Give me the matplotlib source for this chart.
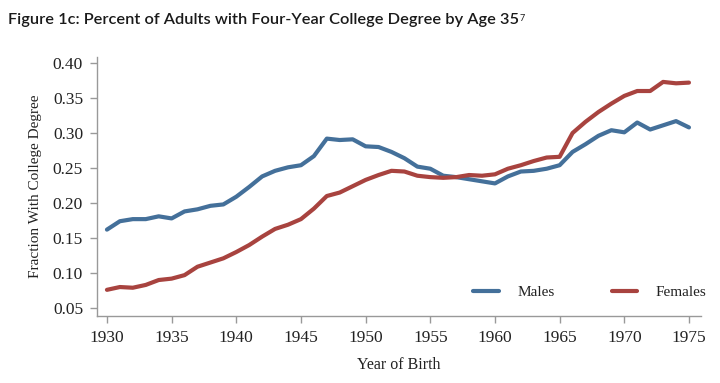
import matplotlib
matplotlib.use("Agg")
import matplotlib.pyplot as plt

years = list(range(1930, 1976))
males = [0.162, 0.174, 0.177, 0.177, 0.181, 0.178, 0.188, 0.191, 0.196, 0.198,
         0.209, 0.223, 0.238, 0.246, 0.251, 0.254, 0.267, 0.292, 0.290, 0.291,
         0.281, 0.280, 0.273, 0.264, 0.252, 0.249, 0.239, 0.237, 0.234, 0.231,
         0.228, 0.238, 0.245, 0.246, 0.249, 0.254, 0.273, 0.284, 0.296, 0.304,
         0.301, 0.315, 0.305, 0.311, 0.317, 0.308]
females = [0.076, 0.080, 0.079, 0.083, 0.090, 0.092, 0.097, 0.109, 0.115, 0.121,
           0.130, 0.140, 0.152, 0.163, 0.169, 0.177, 0.192, 0.210, 0.215, 0.224,
           0.233, 0.240, 0.246, 0.245, 0.239, 0.237, 0.236, 0.237, 0.240, 0.239,
           0.241, 0.249, 0.254, 0.260, 0.265, 0.266, 0.300, 0.316, 0.330, 0.342,
           0.353, 0.360, 0.360, 0.373, 0.371, 0.372]
xticks = [1930, 1935, 1940, 1945, 1950, 1955, 1960, 1965, 1970, 1975]
yticks = [0.05, 0.10, 0.15, 0.20, 0.25, 0.30, 0.35, 0.40]

male_color = "#44709a"
female_color = "#a8433f"
serif = ["Liberation Serif", "DejaVu Serif"]
txt = "#222222"

fig = plt.figure(figsize=(7.2, 3.83), dpi=100)
ax = fig.add_axes([0.1347, 0.1749, 0.8389, 0.6763])

ax.plot(years, males, color=male_color, lw=3.0, label="Males", solid_capstyle="round")
ax.plot(years, females, color=female_color, lw=3.0, label="Females", solid_capstyle="round")

ax.set_xlim(1929.23, 1975.93)
ax.set_ylim(0.0386, 0.4086)
ax.set_xticks(xticks)
ax.set_yticks(yticks)
ax.set_xticklabels([str(x) for x in xticks], family=serif, fontsize=12.5, color=txt)
ax.set_yticklabels([f"{y:.2f}" for y in yticks], family=serif, fontsize=12.5, color=txt)
for s in ["top", "right"]:
    ax.spines[s].set_visible(False)
for s in ["left", "bottom"]:
    ax.spines[s].set_color("#999999")
    ax.spines[s].set_linewidth(1.0)
ax.tick_params(axis="both", direction="out", length=5, color="#999999", width=1.0, pad=5)

ax.set_xlabel("Year of Birth", family=serif, fontsize=11.5, color=txt, labelpad=8)
ax.set_ylabel("Fraction With College Degree", family=serif, fontsize=11, color=txt, labelpad=8)

leg = ax.legend(loc="lower right", ncol=2, frameon=False, prop={"family": serif, "size": 11},
                handlelength=1.65, handletextpad=1.25, columnspacing=3.7,
                bbox_to_anchor=(1.032, 0.012))
for t in leg.get_texts():
    t.set_color(txt)

title = fig.text(0.011, 0.948, "Figure 1c: Percent of Adults with Four-Year College Degree by Age 35",
                 family=["Lato", "DejaVu Sans"], fontsize=11.8, weight="semibold",
                 color="#1a1a1a", va="center", ha="left")
fig.canvas.draw()
bb = title.get_window_extent()
fig.text(bb.x1 / fig.bbox.width + 0.001, (bb.y1 - 1) / fig.bbox.height, "7",
         family=["Lato", "DejaVu Sans"], fontsize=6.5, color="#1a1a1a", va="top", ha="left")

fig.savefig("out.png", dpi=100)
